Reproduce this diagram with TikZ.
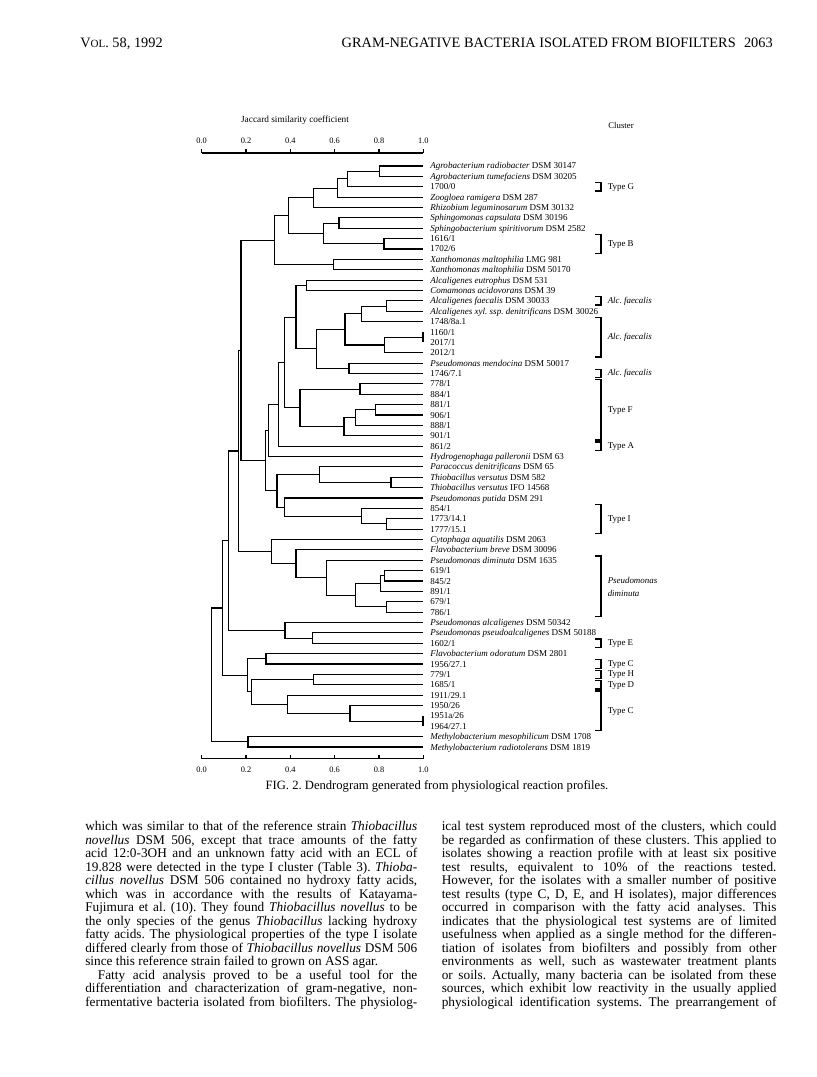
\documentclass[tikz,border=0pt]{standalone}
\usepackage{fontspec}
\setmainfont{Liberation Serif}
\makeatletter
\newcommand\dgSetY[2]{\expandafter\xdef\csname dgY@#1\endcsname{#2}}
\newcommand\dgGetY[1]{\csname dgY@#1\endcsname}
\makeatother
\newcommand\dgNode[4]{%
  \pgfmathsetmacro\dgy{(\dgGetY{#3}+\dgGetY{#4})/2}%
  \coordinate (#1) at (#2,\dgy);%
  \dgSetY{#1}{\dgy}%
  \draw[tree] (#1) |- (#3);%
  \draw[tree] (#1) |- (#4);%
}
\newcommand\dgBr[4]{%
  \pgfmathsetmacro\dya{166+(#2-1)*10.375-4.2}%
  \pgfmathsetmacro\dyb{166+(#3-1)*10.375+4.2}%
  \pgfmathsetmacro\dym{(\dya+\dyb)/2+2.4}%
  \draw[brk] (595,\dya) -- (601,\dya) -- (601,\dyb) -- (595,\dyb);%
  \node[clab] (#1) at (607.5,\dym) {#4};%
}
\newcommand\jl[1]{\makebox[249bp][s]{#1}}
\newcommand\jr[1]{\makebox[251bp][s]{#1}}
\begin{document}
\frenchspacing
\begin{tikzpicture}[x=0.75bp,y=-0.75bp,
  tree/.style={line width=0.8bp,black},
  brk/.style={line width=0.9bp,black},
  axisline/.style={line width=0.8bp,black},
  leaf/.style={anchor=base west,inner sep=0pt,font=\fontsize{6.8}{8}\selectfont},
  clab/.style={anchor=base west,inner sep=0pt,font=\fontsize{6.7}{8}\selectfont},
  axl/.style={anchor=base,inner sep=0pt,font=\fontsize{6.3}{7}\selectfont},
  head/.style={inner sep=0pt,font=\fontsize{10.8}{12}\selectfont},
  body/.style={anchor=base west,inner sep=0pt,font=\fontsize{10}{12}\selectfont},
  figcap/.style={anchor=base,inner sep=0pt,font=\fontsize{9.5}{11}\selectfont}]
\fill[white] (0,0) rectangle (816,1077);
\useasboundingbox (0,0) rectangle (816,1077);

% running head
\node[head,anchor=base west] (hvol) at (80,48) {V{\fontsize{8.3}{9}\selectfont OL}. 58, 1992};
\node[head,anchor=base east] (htitle) at (736,48) {GRAM-NEGATIVE BACTERIA ISOLATED FROM BIOFILTERS};
\node[head,anchor=base east] (hpage) at (773,48) {2063};

% axis titles
\node[axl,font=\fontsize{7}{8}\selectfont] (jac) at (295,123) {Jaccard similarity coefficient};
\node[axl,font=\fontsize{6.6}{8}\selectfont] (clu) at (621,129) {Cluster};

% axes
\draw[axisline] (201.7,153) -- (423.3,153);
\draw[axisline] (201.7,758.5) -- (423.3,758.5);
\foreach \k/\lab in {0/0.0,1/0.2,2/0.4,3/0.6,4/0.8,5/1.0}{
  \pgfmathsetmacro\xx{201.7+\k*44.32}
  \draw[axisline] (\xx,153) -- (\xx,149);
  \node[axl] (tax\k) at (\xx,143.5) {\lab};
  \draw[axisline] (\xx,758.5) -- (\xx,754.5);
  \node[axl] (bax\k) at (\xx,772.5) {\lab};
}

% leaves
\foreach \txt [count=\i] in {
 {\textit{Agrobacterium radiobacter} DSM 30147},
 {\textit{Agrobacterium tumefaciens} DSM 30205},
 {1700/0},
 {\textit{Zoogloea ramigera} DSM 287},
 {\textit{Rhizobium leguminosarum} DSM 30132},
 {\textit{Sphingomonas capsulata} DSM 30196},
 {\textit{Sphingobacterium spiritivorum} DSM 2582},
 {1616/1},
 {1702/6},
 {\textit{Xanthomonas maltophilia} LMG 981},
 {\textit{Xanthomonas maltophilia} DSM 50170},
 {\textit{Alcaligenes eutrophus} DSM 531},
 {\textit{Comamonas acidovorans} DSM 39},
 {\textit{Alcaligenes faecalis} DSM 30033},
 {\textit{Alcaligenes xyl. ssp. denitrificans} DSM 30026},
 {1748/8a.1},
 {1160/1},
 {2017/1},
 {2012/1},
 {\textit{Pseudomonas mendocina} DSM 50017},
 {1746/7.1},
 {778/1},
 {884/1},
 {881/1},
 {906/1},
 {888/1},
 {901/1},
 {861/2},
 {\textit{Hydrogenophaga palleronii} DSM 63},
 {\textit{Paracoccus denitrificans} DSM 65},
 {\textit{Thiobacillus versutus} DSM 582},
 {\textit{Thiobacillus versutus} IFO 14568},
 {\textit{Pseudomonas putida} DSM 291},
 {854/1},
 {1773/14.1},
 {1777/15.1},
 {\textit{Cytophaga aquatilis} DSM 2063},
 {\textit{Flavobacterium breve} DSM 30096},
 {\textit{Pseudomonas diminuta} DSM 1635},
 {619/1},
 {845/2},
 {891/1},
 {679/1},
 {786/1},
 {\textit{Pseudomonas alcaligenes} DSM 50342},
 {\textit{Pseudomonas pseudoalcaligenes} DSM 50188},
 {1602/1},
 {\textit{Flavobacterium odoratum} DSM 2801},
 {1956/27.1},
 {779/1},
 {1685/1},
 {1911/29.1},
 {1950/26},
 {1951a/26},
 {1964/27.1},
 {\textit{Methylobacterium mesophilicum} DSM 1708},
 {\textit{Methylobacterium radiotolerans} DSM 1819}}{
  \pgfmathsetmacro\yy{166+(\i-1)*10.375}
  \pgfmathsetmacro\yb{\yy+3}
  \node[leaf] (T\i) at (430,\yb) {\txt};
  \coordinate (L\i) at (423,\yy);
  \dgSetY{L\i}{\yy}
}

% tree
\dgNode{a12}{379.3}{L1}{L2}
\dgNode{a13}{347.3}{a12}{L3}
\dgNode{a14}{337.7}{a13}{L4}
\dgNode{a15}{313.3}{a14}{L5}
\dgNode{a67}{339}{L6}{L7}
\dgNode{a89}{384}{L8}{L9}
\dgNode{a69}{323.3}{a67}{a89}
\dgNode{a19}{288.3}{a15}{a69}
\dgNode{a1011}{333.3}{L10}{L11}
\dgNode{a111}{274.5}{a19}{a1011}
\dgNode{b1213}{306.7}{L12}{L13}
\dgNode{b1415}{386.7}{L14}{L15}
\dgNode{b1416}{361.7}{b1415}{L16}
\dgNode{b1718}{423}{L17}{L18}
\dgNode{b1719}{384.3}{b1718}{L19}
\dgNode{b1419}{345}{b1416}{b1719}
\dgNode{b2021}{349}{L20}{L21}
\dgNode{b1421}{316.7}{b1419}{b2021}
\dgNode{b1221}{296}{b1213}{b1421}
\dgNode{f2223}{360}{L22}{L23}
\dgNode{f2425}{375.7}{L24}{L25}
\dgNode{f2426}{355.7}{f2425}{L26}
\dgNode{f2427}{344}{f2426}{L27}
\dgNode{f2227}{300}{f2223}{f2427}
\dgNode{e1227}{284.3}{b1221}{f2227}
\dgNode{e1228}{278.3}{e1227}{L28}
\dgNode{e1229}{268.5}{e1228}{L29}
\dgNode{h3132}{391}{L31}{L32}
\dgNode{h3032}{319.3}{L30}{h3132}
\dgNode{h3536}{386.7}{L35}{L36}
\dgNode{h3436}{361.7}{L34}{h3536}
\dgNode{h3336}{284.7}{L33}{h3436}
\dgNode{h3036}{277}{h3032}{h3336}
\dgNode{nE}{265.5}{e1229}{h3036}
\dgNode{nD}{241}{a111}{nE}
\dgNode{c4041}{384.3}{L40}{L41}
\dgNode{c4042}{380.7}{c4041}{L42}
\dgNode{c4344}{386.7}{L43}{L44}
\dgNode{c4044}{355.7}{c4042}{c4344}
\dgNode{c3944}{326.7}{L39}{c4044}
\dgNode{c3844}{296}{L38}{c3944}
\dgNode{c3744}{271.7}{L37}{c3844}
\dgNode{nC}{238.3}{nD}{c3744}
\dgNode{p4647}{312.7}{L46}{L47}
\dgNode{p4547}{285}{L45}{p4647}
\dgNode{nB}{228.3}{nC}{p4547}
\dgNode{q4849}{266}{L48}{L49}
\dgNode{q5051}{313.3}{L50}{L51}
\dgNode{q5455}{423}{L54}{L55}
\dgNode{q5355}{350}{L53}{q5455}
\dgNode{q5255}{287.7}{L52}{q5355}
\dgNode{q5055}{251.7}{q5051}{q5255}
\dgNode{q4855}{247.7}{q4849}{q5055}
\dgNode{nA}{222.7}{nB}{q4855}
\dgNode{m5657}{248}{L56}{L57}
\dgNode{nR}{211.7}{nA}{m5657}

% cluster brackets
\dgBr{kG}{3}{3}{Type G}
\dgBr{kB}{8}{9}{Type B}
\dgBr{kAfa}{14}{14}{\textit{Alc. faecalis}}
\dgBr{kAfb}{16}{19}{\textit{Alc. faecalis}}
\dgBr{kAfc}{21}{21}{\textit{Alc. faecalis}}
\dgBr{kF}{22}{27}{Type F}
\dgBr{kA}{28}{28}{Type A}
\dgBr{kI}{34}{36}{Type I}
\dgBr{kPd}{39}{44}{}
\node[anchor=west,inner sep=0pt,align=left,font=\fontsize{6.7}{9.5}\selectfont\itshape] (kPdl) at (607.5,587) {Pseudomonas\\diminuta};
\dgBr{kE}{47}{47}{Type E}
\dgBr{kCa}{49}{49}{Type C}
\dgBr{kH}{50}{50}{Type H}
\dgBr{kD}{51}{51}{Type D}
\dgBr{kCb}{52}{55}{Type C}

% caption
\node[figcap] (caption) at (437,789) {FIG. 2. Dendrogram generated from physiological reaction profiles.};

% body text, left column
\node[body] (lc1) at (85,830.5) {\jl{which was similar to that of the reference strain \textit{Thiobacillus}}};
\node[body] (lc2) at (85,844) {\jl{\textit{novellus} DSM 506, except that trace amounts of the fatty}};
\node[body] (lc3) at (85,857.5) {\jl{acid 12:0-3OH and an unknown fatty acid with an ECL of}};
\node[body] (lc4) at (85,871) {\jl{19.828 were detected in the type I cluster (Table 3). \textit{Thioba-}}};
\node[body] (lc5) at (85,884.5) {\jl{\textit{cillus novellus} DSM 506 contained no hydroxy fatty acids,}};
\node[body] (lc6) at (85,898) {\jl{which was in accordance with the results of Katayama-}};
\node[body] (lc7) at (85,911.5) {\jl{Fujimura et al. (10). They found \textit{Thiobacillus novellus} to be}};
\node[body] (lc8) at (85,925) {\jl{the only species of the genus \textit{Thiobacillus} lacking hydroxy}};
\node[body] (lc9) at (85,938.5) {\jl{fatty acids. The physiological properties of the type I isolate}};
\node[body] (lc10) at (85,952) {\jl{differed clearly from those of \textit{Thiobacillus novellus} DSM 506}};
\node[body] (lc11) at (85,965.5) {since this reference strain failed to grown on ASS agar.};
\node[body] (lc12) at (85,979) {\jl{\hspace*{9.5bp}Fatty acid analysis proved to be a useful tool for the}};
\node[body] (lc13) at (85,992.5) {\jl{differentiation and characterization of gram-negative, non-}};
\node[body] (lc14) at (85,1006) {\jl{fermentative bacteria isolated from biofilters. The physiolog-}};

% body text, right column
\node[body] (rc1) at (441.5,830.5) {\jr{ical test system reproduced most of the clusters, which could}};
\node[body] (rc2) at (441.5,844) {\jr{be regarded as confirmation of these clusters. This applied to}};
\node[body] (rc3) at (441.5,857.5) {\jr{isolates showing a reaction profile with at least six positive}};
\node[body] (rc4) at (441.5,871) {\jr{test results, equivalent to 10\% of the reactions tested.}};
\node[body] (rc5) at (441.5,884.5) {\jr{However, for the isolates with a smaller number of positive}};
\node[body] (rc6) at (441.5,898) {\jr{test results (type C, D, E, and H isolates), major differences}};
\node[body] (rc7) at (441.5,911.5) {\jr{occurred in comparison with the fatty acid analyses. This}};
\node[body] (rc8) at (441.5,925) {\jr{indicates that the physiological test systems are of limited}};
\node[body] (rc9) at (441.5,938.5) {\jr{usefulness when applied as a single method for the differen-}};
\node[body] (rc10) at (441.5,952) {\jr{tiation of isolates from biofilters and possibly from other}};
\node[body] (rc11) at (441.5,965.5) {\jr{environments as well, such as wastewater treatment plants}};
\node[body] (rc12) at (441.5,979) {\jr{or soils. Actually, many bacteria can be isolated from these}};
\node[body] (rc13) at (441.5,992.5) {\jr{sources, which exhibit low reactivity in the usually applied}};
\node[body] (rc14) at (441.5,1006) {\jr{physiological identification systems. The prearrangement of}};
\end{tikzpicture}
\end{document}
